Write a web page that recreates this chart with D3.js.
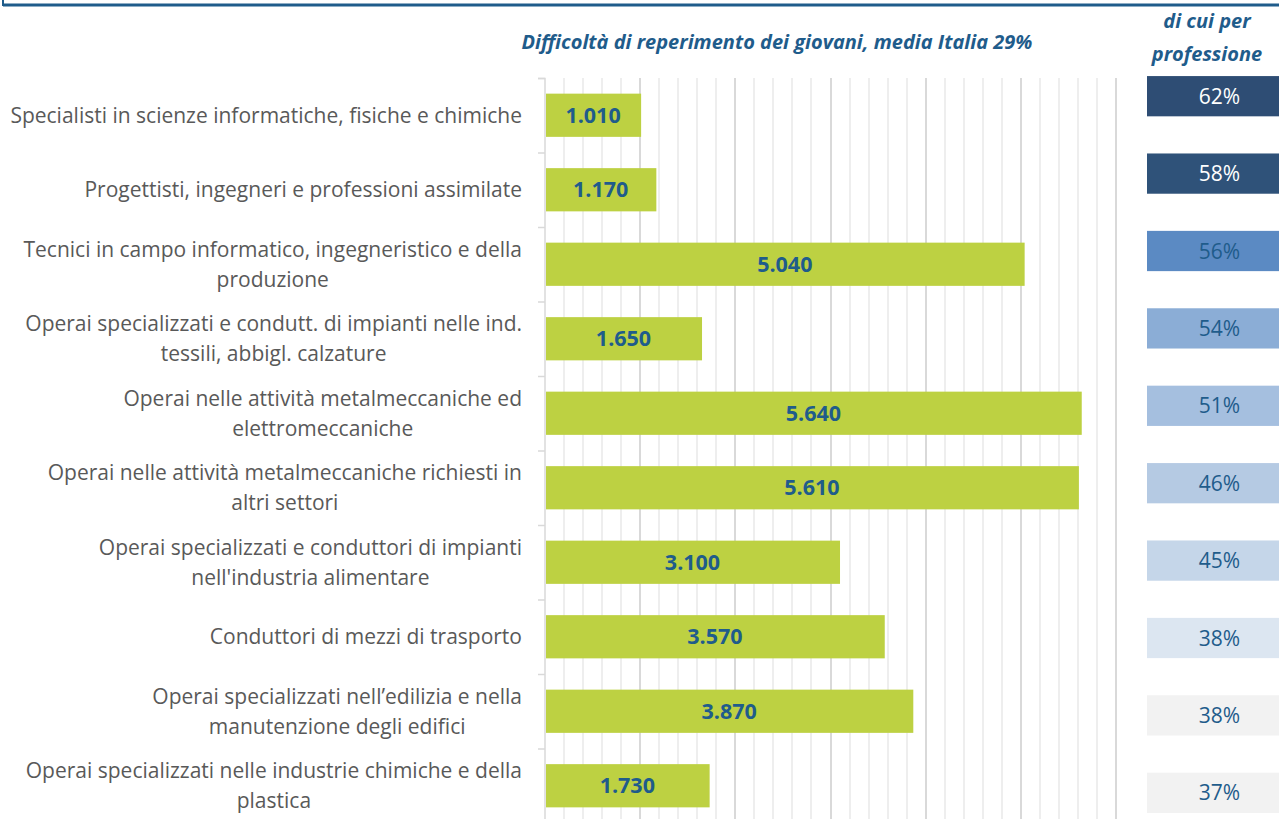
<!DOCTYPE html>
<html>
<head>
<meta charset="utf-8">
<script src="https://cdn.jsdelivr.net/npm/d3@7"></script>
<style>
  body { margin: 0; background: #fff; }
  svg { font-family: "Open Sans", Lato, sans-serif; }
  .grid line { stroke: #eeeeee; stroke-width: 1.6; shape-rendering: crispEdges; }
  .grid line.major { stroke: #d9d9d9; }
  .cat text { fill: #595959; font-size: 21px; }
  .val { fill: #1f5c8b; font-size: 21.5px; font-weight: bold; }
  .pct { font-size: 21px; }
  .head { fill: #1f5c8b; font-size: 20px; font-weight: bold; font-style: italic; }
</style>
</head>
<body>
<script>
// categories (top to bottom)
var categories = [
  ["Specialisti in scienze informatiche, fisiche e chimiche"],
  ["Progettisti, ingegneri e professioni assimilate"],
  ["Tecnici in campo informatico, ingegneristico e della", "produzione"],
  ["Operai specializzati e condutt. di impianti nelle ind.", "tessili, abbigl. calzature"],
  ["Operai nelle attività metalmeccaniche ed", "elettromeccaniche"],
  ["Operai nelle attività metalmeccaniche richiesti in", "altri settori"],
  ["Operai specializzati e conduttori di impianti", "nell'industria alimentare"],
  ["Conduttori di mezzi di trasporto"],
  ["Operai specializzati nell’edilizia e nella", "manutenzione degli edifici"],
  ["Operai specializzati nelle industrie chimiche e della", "plastica"]
];
var hires = [1010, 1170, 5040, 1650, 5640, 5610, 3100, 3570, 3870, 1730];
var shares = [62, 58, 56, 54, 51, 46, 45, 38, 38, 37];
var shareColors = ["#2e4d74", "#2f5279", "#5b8ac3", "#8badd6", "#a5bfdf", "#b5cae3", "#c5d6e9", "#dce6f1", "#f2f2f2", "#f2f2f2"];
var title = "Difficoltà di reperimento dei giovani, media Italia 29%";
var sideTitle = ["di cui per", "professione"];

var W = 1279, H = 819;
var svg = d3.select("body").append("svg").attr("width", W).attr("height", H);

var fmt = d3.formatLocale({decimal: ",", thousands: ".", grouping: [3]}).format(",.0f");

var x = d3.scaleLinear().domain([0, 6000]).range([545, 1116]);
var y = d3.scaleBand().domain(d3.range(categories.length)).range([78, 823]).paddingInner(0.42).paddingOuter(0.21);
var yStep = y.step();
var ySide = d3.scaleBand().domain(d3.range(shares.length)).range([57.5, 831.5]).paddingInner(0.48).paddingOuter(0.24);

// top frame line
svg.append("line").attr("x1", 3).attr("x2", W).attr("y1", 5).attr("y2", 5)
  .attr("stroke", "#1f5c8b").attr("stroke-width", 3);
svg.append("line").attr("x1", 3).attr("x2", 3).attr("y1", 0).attr("y2", 6)
  .attr("stroke", "#1f5c8b").attr("stroke-width", 2);

// grid
var grid = svg.append("g").attr("class", "grid");
grid.selectAll("line").data(d3.range(200, 6001, 200)).enter().append("line")
  .attr("class", function(d) { return d % 1000 === 0 ? "major" : null; })
  .attr("x1", function(d) { return Math.round(x(d)); })
  .attr("x2", function(d) { return Math.round(x(d)); })
  .attr("y1", 78).attr("y2", H);

// y axis
var yAxis = d3.axisLeft(d3.scaleLinear().domain([0, categories.length]).range([78, 78 + yStep * categories.length]))
  .ticks(categories.length).tickSize(7).tickFormat("");
var ya = svg.append("g").attr("transform", "translate(" + x(0) + ",0)").call(yAxis);
ya.selectAll("line, path").attr("stroke", "#d9d9d9").attr("stroke-width", 1.5);
ya.select("path").attr("d", "M-7,78.5H0V" + (78 + yStep * categories.length));

// bars
svg.selectAll("rect.bar").data(hires).enter().append("rect")
  .attr("class", "bar")
  .attr("x", x(0) + 1)
  .attr("y", function(d, i) { return y(i); })
  .attr("width", function(d) { return x(d) - x(0) - 1; })
  .attr("height", y.bandwidth())
  .attr("fill", "#bdd142");

svg.selectAll("text.val").data(hires).enter().append("text")
  .attr("class", "val")
  .attr("x", function(d) { return (x(0) + x(d)) / 2; })
  .attr("y", function(d, i) { return y(i) + y.bandwidth() / 2; })
  .attr("dy", "0.36em")
  .attr("text-anchor", "middle")
  .text(function(d) { return fmt(d); });

// category labels (lines centred on each other, block right-aligned)
var cat = svg.append("g").attr("class", "cat");
categories.forEach(function(lines, i) {
  var g = cat.append("g");
  var cy = y(i) + y.bandwidth() / 2;
  var t = g.selectAll("text").data(lines).enter().append("text")
    .attr("text-anchor", "middle")
    .attr("y", function(d, j) { return cy + (j - (lines.length - 1) / 2) * 30; })
    .attr("dy", "0.35em")
    .text(function(d) { return d; });
  var maxW = d3.max(t.nodes(), function(n) { return n.getComputedTextLength(); });
  t.attr("x", 522 - maxW / 2);
});

// headers
svg.append("text").attr("class", "head").attr("x", 777).attr("y", 49)
  .attr("text-anchor", "middle").text(title);
svg.selectAll("text.side").data(sideTitle).enter().append("text")
  .attr("class", "head side").attr("x", 1207)
  .attr("y", function(d, i) { return 28 + i * 33; })
  .attr("text-anchor", "middle").text(function(d) { return d; });

// share boxes
svg.selectAll("rect.share").data(shares).enter().append("rect")
  .attr("class", "share")
  .attr("x", 1147).attr("width", W - 1147)
  .attr("y", function(d, i) { return ySide(i); })
  .attr("height", ySide.bandwidth())
  .attr("fill", function(d, i) { return shareColors[i]; });

svg.selectAll("text.pct").data(shares).enter().append("text")
  .attr("class", "pct")
  .attr("x", 1219.5)
  .attr("y", function(d, i) { return ySide(i) + ySide.bandwidth() / 2; })
  .attr("dy", "0.36em")
  .attr("text-anchor", "middle")
  .attr("fill", function(d, i) { return i < 2 ? "#ffffff" : "#1f5c8b"; })
  .text(function(d) { return d + "%"; });
</script>
</body>
</html>
